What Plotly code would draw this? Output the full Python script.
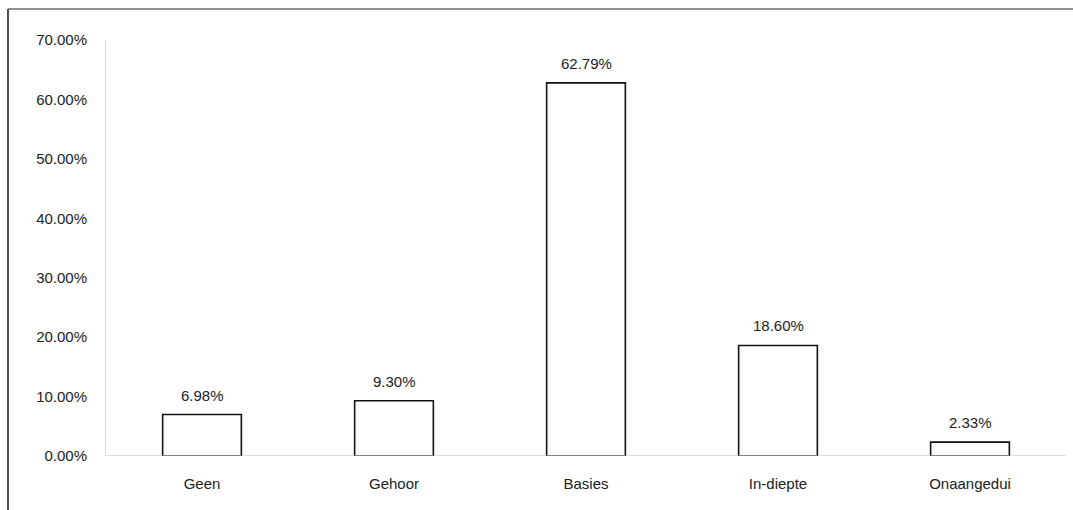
import plotly.graph_objects as go

categories = ["Geen", "Gehoor", "Basies", "In-diepte", "Onaangedui"]
percentages = [6.98, 9.30, 62.79, 18.60, 2.33]
tick_values = [0, 10, 20, 30, 40, 50, 60, 70]
tick_labels = ["0.00%", "10.00%", "20.00%", "30.00%", "40.00%", "50.00%", "60.00%", "70.00%"]

W, H = 1073, 510
ML, MR, MT, MB = 106, 7, 40, 54
PW, PH = W - ML - MR, H - MT - MB
FONT = "Liberation Sans, Arial, sans-serif"


def px_x(x):
    return (x - ML) / PW


def px_y(y):
    return (H - MB - y) / PH


fig = go.Figure(
    go.Bar(
        x=categories,
        y=percentages,
        marker=dict(color="white", line=dict(color="#111", width=1.6)),
        width=0.41,
        hoverinfo="skip",
    )
)

# value labels above each bar
for cat, val in zip(categories, percentages):
    fig.add_annotation(
        x=cat, y=val, text=f"{val:.2f}%",
        showarrow=False, yanchor="bottom", yshift=9,
        font=dict(family=FONT, size=15, color="#222"),
    )

fig.update_layout(
    width=W,
    height=H,
    margin=dict(l=ML, r=MR, t=MT, b=MB),
    paper_bgcolor="white",
    plot_bgcolor="white",
    showlegend=False,
    font=dict(family=FONT, size=15, color="#222"),
    xaxis=dict(
        showgrid=False,
        showline=False,
        zeroline=False,
        ticks="",
        ticklabelstandoff=17,
        tickfont=dict(size=15, color="#222"),
    ),
    yaxis=dict(
        range=[0, 70],
        tickvals=tick_values,
        ticktext=tick_labels,
        showgrid=False,
        zeroline=False,
        showline=True,
        linecolor="#d8d8d8",
        linewidth=1,
        ticks="",
        ticklabelstandoff=15,
        tickfont=dict(size=15, color="#222"),
    ),
    shapes=[
        # outer chart frame (left and top edges)
        dict(type="line", xref="paper", yref="paper",
             x0=px_x(8), x1=px_x(8), y0=px_y(9), y1=px_y(510),
             line=dict(color="#111", width=1.5)),
        dict(type="line", xref="paper", yref="paper",
             x0=px_x(8), x1=px_x(1073), y0=px_y(9), y1=px_y(9),
             line=dict(color="#222", width=1.2)),
        # baseline at zero
        dict(type="line", xref="paper", yref="y",
             x0=0, x1=1, y0=0, y1=0,
             line=dict(color="#bbb", width=1)),
    ],
)

fig.write_html("out.html")
